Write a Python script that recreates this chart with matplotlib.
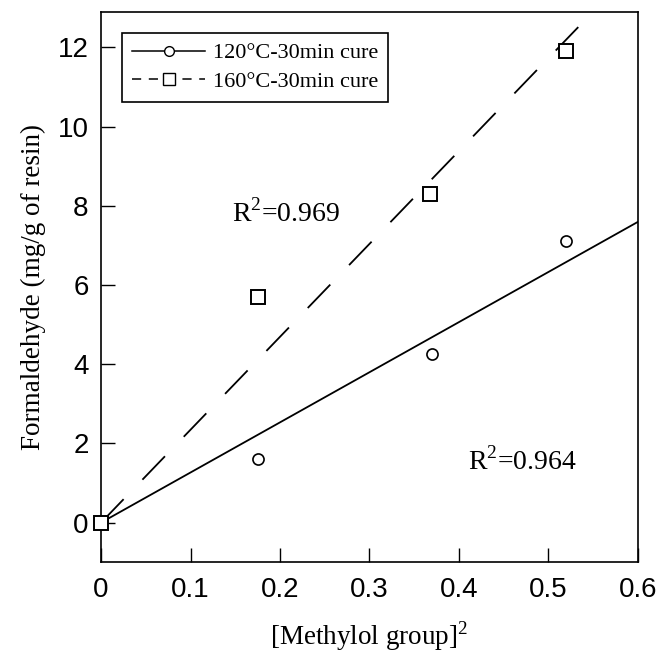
import matplotlib.pyplot as plt
import numpy as np
from matplotlib.lines import Line2D

# Methylol group squared vs. released formaldehyde
x_120 = np.array([0.0, 0.176, 0.37, 0.52])
y_120 = np.array([0.0, 1.6, 4.25, 7.1])
x_160 = np.array([0.0, 0.176, 0.368, 0.52])
y_160 = np.array([0.0, 5.7, 8.3, 11.9])

labels = ["120°C-30min cure", "160°C-30min cure"]
r2_labels = ["R$^2$=0.964", "R$^2$=0.969"]
x_ticks = [0, 0.1, 0.2, 0.3, 0.4, 0.5, 0.6]
x_tick_labels = ["0", "0.1", "0.2", "0.3", "0.4", "0.5", "0.6"]
y_ticks = [0, 2, 4, 6, 8, 10, 12]

SERIF = ["Liberation Serif", "DejaVu Serif"]
SANS = ["Liberation Sans", "DejaVu Sans"]
plt.rcParams["mathtext.fontset"] = "custom"
plt.rcParams["mathtext.rm"] = "Liberation Serif"


def origin_slope(x, y):
    # least squares line forced through the origin
    return float(np.sum(x * y) / np.sum(x * x))


fig = plt.figure(figsize=(6.65, 6.56), dpi=100)
ax = fig.add_axes([0.152, 0.143, 0.807, 0.839])

fit_x = np.linspace(0, 0.6, 50)
ax.plot(fit_x, origin_slope(x_120, y_120) * fit_x, color="black", linewidth=1.3)
ax.plot(fit_x, origin_slope(x_160, y_160) * fit_x, color="black", linewidth=1.3,
        dashes=(18, 15))

ax.plot(x_120, y_120, "o", markersize=8, markerfacecolor="white",
        markeredgecolor="black", markeredgewidth=1.2, clip_on=False, zorder=3)
ax.plot(x_160, y_160, "s", markersize=10, markerfacecolor="white",
        markeredgecolor="black", markeredgewidth=1.4, clip_on=False, zorder=4)

ax.text(0.146, 7.8, r2_labels[1], family=SERIF, fontsize=20, ha="left", va="center")
ax.text(0.41, 1.55, r2_labels[0], family=SERIF, fontsize=20, ha="left", va="center")

ax.set_xlim(0, 0.6)
ax.set_ylim(-1.0, 12.9)
ax.set_xticks(x_ticks)
ax.set_xticklabels(x_tick_labels)
ax.set_yticks(y_ticks)
ax.tick_params(direction="in", length=10, width=1, labelsize=20,
               top=False, right=False)
ax.tick_params(axis="x", pad=11)
ax.tick_params(axis="y", pad=9)
for lab in ax.get_xticklabels() + ax.get_yticklabels():
    lab.set_family(SANS)
for spine in ax.spines.values():
    spine.set_linewidth(1.2)

ax.set_xlabel("[Methylol group]$^2$", family=SERIF, fontsize=19.5, labelpad=11)
ax.set_ylabel("Formaldehyde (mg/g of resin)", family=SERIF, fontsize=19.5, labelpad=8)

handles = [
    Line2D([], [], color="black", linewidth=1.1, marker="o", markersize=7,
           markerfacecolor="white", markeredgecolor="black"),
    Line2D([], [], color="black", linewidth=1.1, dashes=(6, 5), marker="s",
           markersize=8, markerfacecolor="white", markeredgecolor="black"),
]
leg = ax.legend(handles, labels, loc="upper left", bbox_to_anchor=(0.039, 0.962),
                borderaxespad=0, prop={"family": SERIF, "size": 16},
                handlelength=3.3, handletextpad=0.35, borderpad=0.45,
                labelspacing=0.35, fancybox=False, framealpha=1, edgecolor="black")
leg.get_frame().set_linewidth(1.2)

fig.savefig("out.png", dpi=100, facecolor="white")
